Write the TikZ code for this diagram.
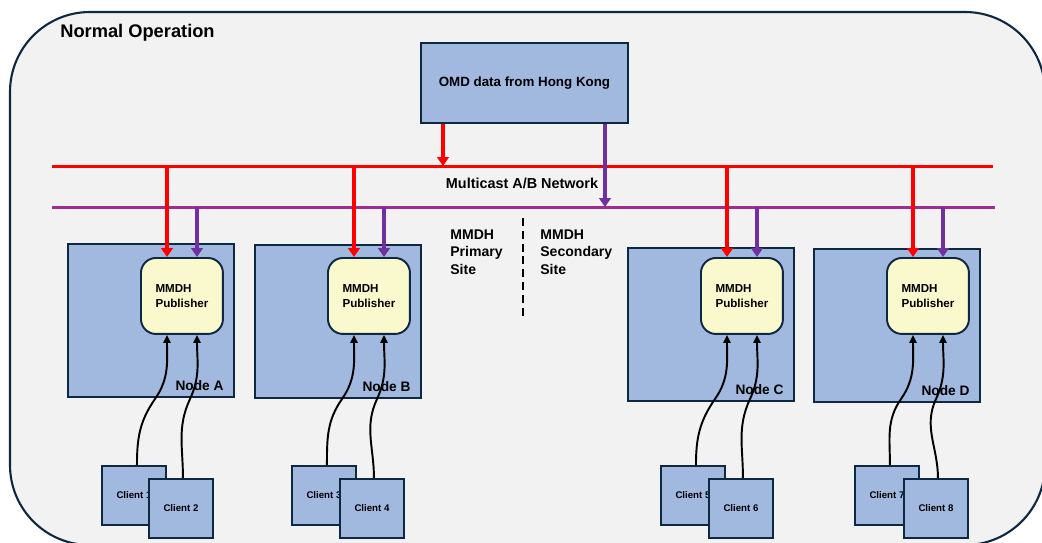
\documentclass[tikz,border=0pt]{standalone}
\usepackage{fontspec}
\setmainfont{Liberation Sans}
\usetikzlibrary{arrows.meta}
\definecolor{bggray}{HTML}{F2F2F2}
\definecolor{navy}{HTML}{0E2841}
\definecolor{boxblue}{HTML}{A1B8DF}
\definecolor{pubyellow}{HTML}{FAF8CD}
\definecolor{netpurple}{HTML}{A02B93}
\definecolor{arrpurple}{HTML}{7030A0}
\tikzset{
  bluebox/.style={draw=navy,line width=1.1pt,fill=boxblue,anchor=north west,inner sep=0pt},
  nodebox/.style={bluebox,minimum width=3.32cm,minimum height=3.06cm},
  omdbox/.style={bluebox,minimum width=4.14cm,minimum height=1.6cm,font=\bfseries\fontsize{7.6}{9}\selectfont},
  pubbox/.style={draw=navy,line width=1.1pt,fill=pubyellow,rounded corners=0.3cm,anchor=north west,
    minimum width=1.64cm,minimum height=1.52cm,inner sep=0pt,align=left,font=\bfseries\fontsize{6.6}{8.5}\selectfont},
  clientbox/.style={bluebox,minimum width=1.28cm,minimum height=1.18cm,font=\bfseries\fontsize{5.5}{6}\selectfont},
  netred/.style={red,line width=1.7pt},
  netpurp/.style={netpurple,line width=1.7pt},
  redarr/.style={red,line width=1.9pt,-{Triangle[length=5pt,width=6.5pt]}},
  purparr/.style={arrpurple,line width=1.9pt,-{Triangle[length=5pt,width=6.5pt]}},
  feed/.style={black,line width=1.1pt,-{Triangle[length=4.5pt,width=4pt]}},
  sitelbl/.style={font=\bfseries\fontsize{8}{10.2}\selectfont,align=left,anchor=north west,inner sep=0pt}
}
\begin{document}
\begin{tikzpicture}[x=0.02cm,y=-0.02cm]
  \path[use as bounding box,clip] (0,0) rectangle (1042,542);
  \draw[navy,line width=1.2pt,fill=bggray,rounded corners=1.6cm] (10,12) rectangle (1045,545);
  \node[anchor=west,inner sep=0pt,font=\bfseries\fontsize{10.4}{12}\selectfont] (title) at (60,33) {Normal Operation};

  % multicast network
  \coordinate (redW) at (52,166);
  \coordinate (redE) at (993,166);
  \coordinate (purW) at (52,207);
  \coordinate (purE) at (995,207);
  \draw[netred] (redW) -- (redE);
  \draw[netpurp] (purW) -- (purE);
  \node[inner sep=0pt,font=\bfseries\fontsize{8.2}{10}\selectfont] (net) at (522,183) {Multicast A/B Network};

  \node[omdbox] (omd) at (420,42) {OMD data from Hong Kong};
  \coordinate (omdR) at (443,166);
  \coordinate (omdP) at (605,207);
  \draw[redarr] (omdR |- omd.south) -- (omdR);
  \draw[purparr] (omdP |- omd.south) -- (omdP);

  \draw[black,line width=1.1pt,dash pattern=on 4.5pt off 2.8pt] (523,218) -- (523,318);
  \node[sitelbl] (prim) at (450,229) {MMDH\\Primary\\Site};
  \node[sitelbl] (sec) at (540,229) {MMDH\\Secondary\\Site};

  \foreach \n/\bx/\by/\co/\ce/\o/\e in {A/67/243/101/148/1/2,B/254/244/291/339/3/4,C/627/247/660/708/5/6,D/813/248/854/903/7/8}{
    \node[nodebox] (node\n) at (\bx,\by) {};
    \node[anchor=base east,inner sep=0pt,font=\bfseries\fontsize{7.8}{9}\selectfont] at ([xshift=-0.22cm,yshift=0.14cm]node\n.south east) {Node \n};
    \node[pubbox] (pub\n) at (\bx+73,257) {MMDH\\Publisher};
    \coordinate (r\n) at (\bx+100,166);
    \coordinate (p\n) at (\bx+130,207);
    \draw[redarr] (r\n) -- (r\n |- pub\n.north);
    \draw[purparr] (p\n) -- (p\n |- pub\n.north);
    \node[clientbox] (client\o) at (\co,465) {Client \o};
    \node[clientbox] (client\e) at (\ce,478) {Client \e};
    \coordinate (k\o) at (\bx+88,399);
    \coordinate (k\e) at (\bx+123,399);
    \draw[feed] ([xshift=0.06cm]client\o.north) to[out=90,in=-125] (k\o) to[out=55,in=-90] (r\n |- pub\n.south);
    \draw[feed] ([xshift=0.04cm]client\e.north) to[out=90,in=-115] (k\e) to[out=65,in=-90] (p\n |- pub\n.south);
  }
\end{tikzpicture}
\end{document}
